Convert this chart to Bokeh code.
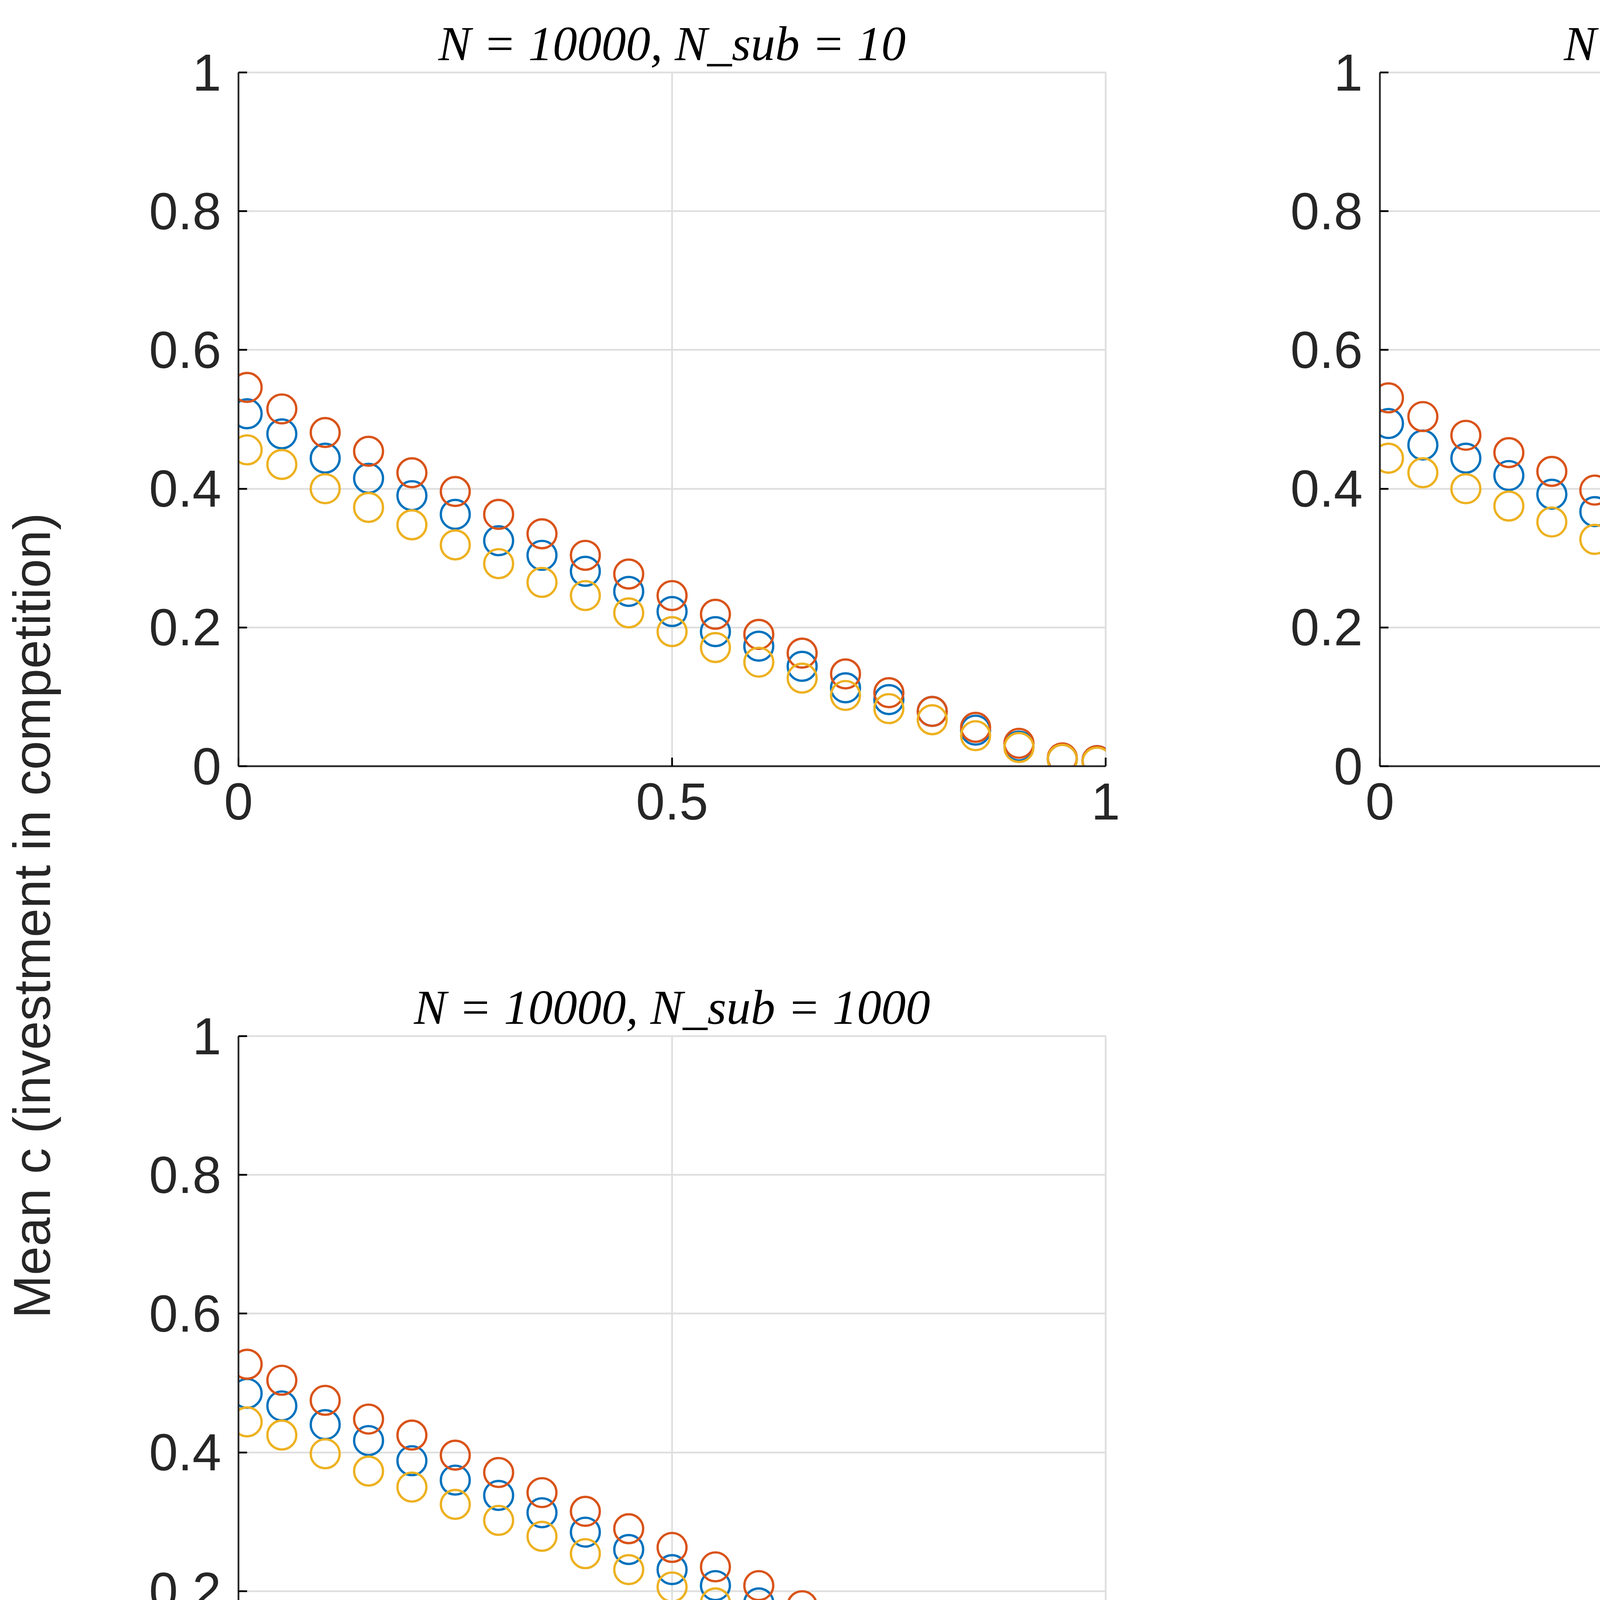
from bokeh.plotting import figure
from bokeh.layouts import row, column, Spacer
from bokeh.models import Title, FixedTicker, Range1d
from bokeh.embed import file_html
from bokeh.resources import INLINE

S = 3.7  # scale from the small sketch to the big page

d = [0.01, 0.05, 0.1, 0.15, 0.2, 0.25, 0.3, 0.35, 0.4, 0.45, 0.5,
     0.55, 0.6, 0.65, 0.7, 0.75, 0.8, 0.85, 0.9, 0.95, 0.99]

# N_sub = 10
red_10 = [0.546, 0.515, 0.481, 0.454, 0.423, 0.396, 0.363, 0.335, 0.304, 0.277, 0.246,
          0.219, 0.190, 0.163, 0.133, 0.106, 0.079, 0.056, 0.033, 0.012, 0.008]
blue_10 = [0.508, 0.479, 0.444, 0.415, 0.390, 0.363, 0.325, 0.304, 0.281, 0.252, 0.223,
           0.194, 0.173, 0.144, 0.113, 0.096, 0.079, 0.052, 0.029, 0.010, 0.008]
yellow_10 = [0.456, 0.435, 0.400, 0.373, 0.348, 0.319, 0.292, 0.265, 0.246, 0.221, 0.194,
             0.171, 0.150, 0.127, 0.102, 0.083, 0.067, 0.044, 0.027, 0.010, 0.006]
# N_sub = 100
red_100 = [0.531, 0.504, 0.477, 0.452, 0.425, 0.398, 0.371, 0.346, 0.319, 0.292, 0.263,
           0.238, 0.204, 0.179, 0.152, 0.121, 0.092, 0.069, 0.042, 0.017, 0.008]
blue_100 = [0.494, 0.463, 0.444, 0.419, 0.392, 0.367, 0.338, 0.315, 0.292, 0.265, 0.235,
            0.210, 0.185, 0.160, 0.133, 0.110, 0.085, 0.060, 0.035, 0.015, 0.008]
yellow_100 = [0.444, 0.423, 0.400, 0.375, 0.352, 0.327, 0.302, 0.279, 0.254, 0.229, 0.206,
              0.183, 0.158, 0.135, 0.115, 0.092, 0.069, 0.046, 0.027, 0.012, 0.006]
# N_sub = 1000
red_1000 = [0.527, 0.504, 0.475, 0.448, 0.425, 0.396, 0.371, 0.342, 0.315, 0.290, 0.263,
            0.235, 0.208, 0.179, 0.152, 0.121, 0.096, 0.069, 0.042, 0.012, 0.008]
blue_1000 = [0.485, 0.467, 0.440, 0.417, 0.388, 0.360, 0.338, 0.313, 0.285, 0.260, 0.231,
             0.208, 0.183, 0.158, 0.133, 0.106, 0.083, 0.063, 0.035, 0.012, 0.008]
yellow_1000 = [0.444, 0.425, 0.398, 0.373, 0.350, 0.325, 0.302, 0.279, 0.254, 0.231, 0.206,
               0.183, 0.160, 0.138, 0.115, 0.092, 0.071, 0.048, 0.029, 0.012, 0.006]

titles = ["N = 10000, N_sub = 10", "N = 10000, N_sub = 100", "N = 10000, N_sub = 1000"]
x_ticks = [0, 0.5, 1]
y_ticks = [0, 0.2, 0.4, 0.6, 0.8, 1]

BLUE, RED, YELLOW = "#0072BD", "#D95319", "#EDB120"
FONT = "Liberation Sans"
TICK_FS = f"{int(36 * S)}px"


def fmt(v):
    return "0" if v == 0 else ("1" if v == 1 else f"{v:g}")


def panel(title, red, blue, yellow, fw, left, right, top, bottom):
    p = figure(frame_width=int(fw * S), frame_height=int(480 * S),
               x_range=Range1d(0, 1), y_range=Range1d(0, 1),
               toolbar_location=None, output_backend="svg",
               min_border_left=int(left * S), min_border_right=int(right * S),
               min_border_top=int(top * S), min_border_bottom=int(bottom * S))
    p.add_layout(Title(text=title, align="center", text_font="Liberation Serif",
                       text_font_style="italic", text_font_size=f"{int(34 * S)}px",
                       text_color="black"), "above")
    for ys, col in ((blue, BLUE), (red, RED), (yellow, YELLOW)):
        p.scatter(d, ys, marker="circle", size=20 * S, fill_color=None,
                  line_color=col, line_width=1.6 * S)
    p.xaxis.ticker = FixedTicker(ticks=x_ticks)
    p.yaxis.ticker = FixedTicker(ticks=y_ticks)
    p.xaxis.major_label_overrides = {t: fmt(t) for t in x_ticks}
    p.yaxis.major_label_overrides = {t: fmt(t) for t in y_ticks}
    for ax in (p.xaxis, p.yaxis):
        ax.major_label_text_font = FONT
        ax.major_label_text_font_size = TICK_FS
        ax.major_label_text_color = "#262626"
        ax.axis_line_width = 1.2 * S
        ax.axis_line_color = "#262626"
        ax.major_tick_in = int(6 * S)
        ax.major_tick_out = 0
        ax.major_tick_line_width = 1.2 * S
        ax.minor_tick_line_color = None
        ax.major_label_standoff = int(12 * S)
    p.grid.grid_line_color = "#DFDFDF"
    p.grid.grid_line_width = 1.2 * S
    p.outline_line_color = "#DFDFDF"
    p.outline_line_width = 1.2 * S
    return p


p1 = panel(titles[0], red_10, blue_10, yellow_10, 600, 105, 95, 50, 90)
p2 = panel(titles[1], red_100, blue_100, yellow_100, 595, 95, 17, 50, 90)
p3 = panel(titles[2], red_1000, blue_1000, yellow_1000, 600, 105, 95, 97, 70)


def blank(w, h):
    b = figure(width=int(w * S), height=int(h * S), toolbar_location=None,
               output_backend="svg", min_border=0, outline_line_color=None,
               x_range=Range1d(0, 1), y_range=Range1d(0, 1))
    b.axis.visible = False
    b.grid.visible = False
    return b


ylab = blank(60, 1267)
ylab.add_layout(Title(text="Mean c (investment in competition)", align="center",
                      text_font=FONT, text_font_style="normal",
                      text_font_size=f"{int(36 * S)}px", text_color="#262626"), "left")
xlab = blank(1364, 56)
xlab.add_layout(Title(text="d (ratio of worst to best resource used)", align="center",
                      text_font=FONT, text_font_style="normal",
                      text_font_size=f"{int(36 * S)}px", text_color="#262626"), "above")

grid = column(row(p1, p2), row(p3, Spacer(width=int(707 * S), height=10)))
page = column(row(ylab, grid), row(Spacer(width=int(203 * S), height=10), xlab))

open("out.html", "w").write(file_html(page, INLINE))
